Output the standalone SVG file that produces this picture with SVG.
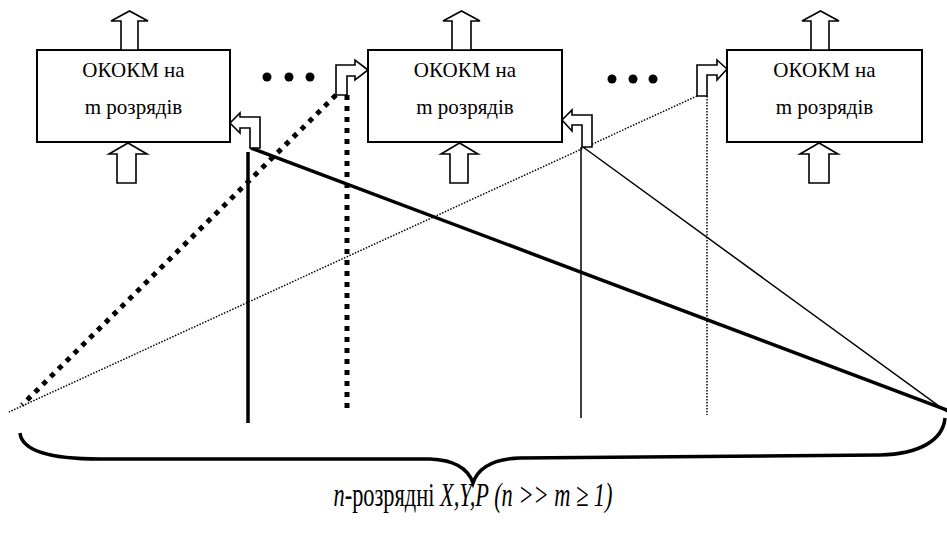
<svg xmlns="http://www.w3.org/2000/svg" width="947" height="535" viewBox="0 0 947 535">
<style>
.box{fill:#fff;stroke:#000;stroke-width:2}
.arr{fill:#fff;stroke:#000;stroke-width:1.6;stroke-linejoin:miter}
.lbl{font-size:21px;fill:#000;text-anchor:middle}
.dot{fill:#000}
.thickdot{stroke:#000;stroke-width:5;stroke-dasharray:5 6;fill:none}
.thindot{stroke:#000;stroke-width:1.5;stroke-dasharray:1.5 1.5;fill:none}
.thick{stroke:#000;stroke-width:3.5;fill:none}
.thin{stroke:#000;stroke-width:1.5;fill:none}
.brace{stroke:#000;stroke-width:3.5;fill:none}
.cap{font-size:34px;fill:#000;text-anchor:middle}
</style>
<rect width="947" height="535" fill="#fff"/>
<g id="connectors">
<line class="thickdot" x1="336" y1="95" x2="22" y2="405"/>
<line class="thickdot" x1="347" y1="95" x2="347" y2="409"/>
<line class="thindot" x1="697" y1="96" x2="9" y2="412"/>
<line class="thindot" x1="707" y1="96" x2="707" y2="415"/>
<line class="thick" x1="251" y1="148" x2="947" y2="410"/>
<line class="thick" x1="248" y1="152" x2="248" y2="423"/>
<line class="thin" x1="583" y1="147" x2="947" y2="412"/>
<line class="thin" x1="581" y1="147" x2="581" y2="418"/>
</g>
<g id="node1">
<rect class="box" x="37" y="50" width="193" height="92"/>
<text class="lbl" font-family="Liberation Serif" x="133.5" y="77">ОКОКМ на</text>
<text class="lbl" font-family="Liberation Serif" x="133.5" y="114">m розрядів</text>
<polygon class="arr" points="121,50 121,21 111,21 129.5,11 148,21 138,21 138,50"/>
<polygon class="arr" points="117,183 117,154 109,154 128,143 147,154 136,154 136,183"/>
<polygon class="arr" points="230,123 240,113 240,117 260,117 260,148 250,148 250,128 240,128 240,133"/>
</g>
<g id="node2">
<rect class="box" x="368" y="50" width="194" height="92"/>
<text class="lbl" font-family="Liberation Serif" x="465" y="77">ОКОКМ на</text>
<text class="lbl" font-family="Liberation Serif" x="465" y="114">m розрядів</text>
<polygon class="arr" points="452,50 452,21 443,21 461.5,11 480,21 471,21 471,50"/>
<polygon class="arr" points="450,183 450,154 441,154 459.5,143 478,154 468,154 468,183"/>
<polygon class="arr" points="368,70 355,60 355,65 336,65 336,95 347,95 347,76 355,76 355,80"/>
<polygon class="arr" points="562,120 572,110 572,115 592,115 592,147 582,147 582,125 572,125 572,131"/>
</g>
<g id="node3">
<rect class="box" x="727" y="50" width="195" height="92"/>
<text class="lbl" font-family="Liberation Serif" x="824.5" y="77">ОКОКМ на</text>
<text class="lbl" font-family="Liberation Serif" x="824.5" y="114">m розрядів</text>
<polygon class="arr" points="811,50 811,21 802,21 820.5,11 839,21 829,21 829,50"/>
<polygon class="arr" points="809,183 809,154 800,154 819,143 838,154 829,154 829,183"/>
<polygon class="arr" points="727,69 717,60 717,65 697,65 697,96 707,96 707,75 717,75 717,80"/>
</g>
<g id="ellipsis1">
<circle class="dot" cx="267" cy="77" r="4.5"/>
<circle class="dot" cx="289" cy="77" r="4.5"/>
<circle class="dot" cx="310" cy="77" r="4.5"/>
</g>
<g id="ellipsis2">
<circle class="dot" cx="612" cy="79" r="4.5"/>
<circle class="dot" cx="633" cy="79" r="4.5"/>
<circle class="dot" cx="653" cy="79" r="4.5"/>
</g>
<g id="brace">
<path class="brace" d="M20,433 C22,452 55,459 100,459 L430,459 C455,460 468,468 473,483 C478,468 492,459 520,458 L880,455 C920,454 943,440 945,418"/>
</g>
<g id="caption">
<text class="cap" font-family="Liberation Serif" x="473" y="506" textLength="279" lengthAdjust="spacingAndGlyphs"><tspan font-style="italic">n</tspan>-розрядні <tspan font-style="italic">X,Y,P (n &gt;&gt; m ≥ 1)</tspan></text>
</g>
</svg>
